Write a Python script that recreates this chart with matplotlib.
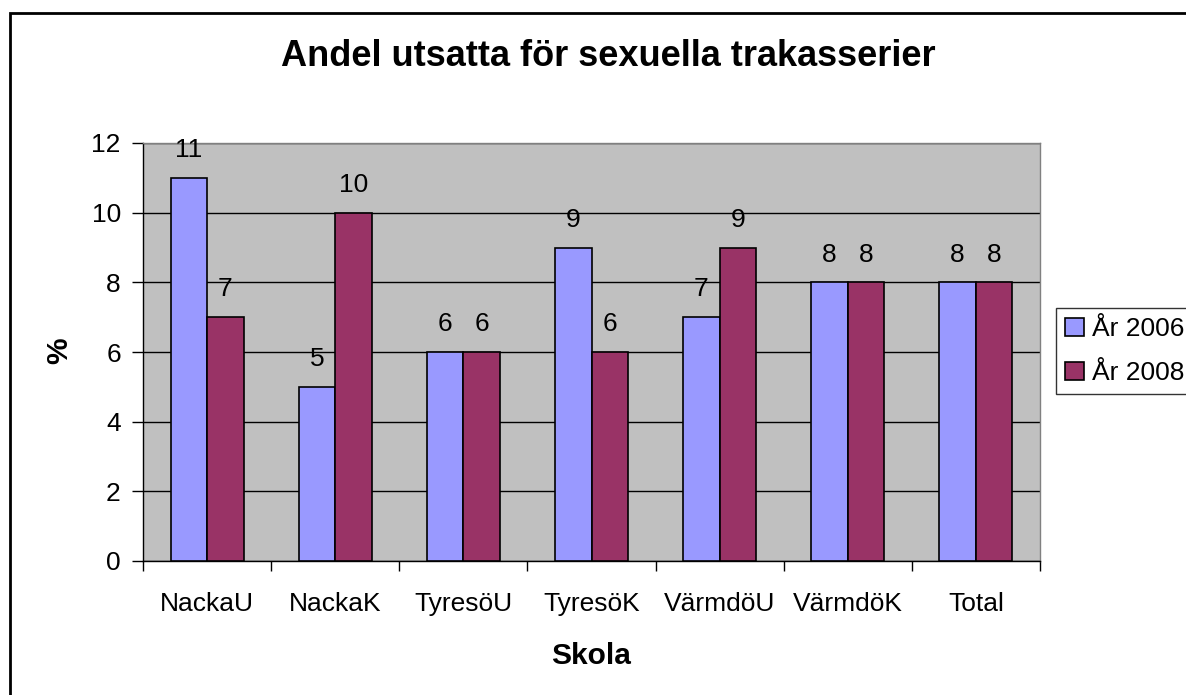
import matplotlib
matplotlib.use("Agg")
import matplotlib.pyplot as plt
from matplotlib.patches import Rectangle
import numpy as np

categories = ["NackaU", "NackaK", "TyresöU", "TyresöK", "VärmdöU", "VärmdöK", "Total"]
series_names = ["År 2006", "År 2008"]
values_2006 = [11, 5, 6, 9, 7, 8, 8]
values_2008 = [7, 10, 6, 6, 9, 8, 8]
y_ticks = [0, 2, 4, 6, 8, 10, 12]

plt.rcParams['font.family'] = ['Liberation Sans', 'DejaVu Sans']

W, H = 1186, 695
FS = 19
fig = plt.figure(figsize=(W / 100, H / 100), dpi=100)
ax = fig.add_axes([143 / W, 1 - 561 / H, (1040 - 143) / W, (561 - 143) / H])
ax.set_facecolor('#C0C0C0')

x = np.arange(len(categories))
bw = 0.285
b1 = ax.bar(x - bw / 2, values_2006, bw, color='#9999FF', edgecolor='black', linewidth=1.2,
            label=series_names[0], zorder=3)
b2 = ax.bar(x + bw / 2, values_2008, bw, color='#993366', edgecolor='black', linewidth=1.2,
            label=series_names[1], zorder=3)

for bars in (b1, b2):
    for r in bars:
        ax.annotate(f"{int(r.get_height())}", (r.get_x() + r.get_width() / 2, r.get_height()),
                    xytext=(0, 20), textcoords='offset points', ha='center', va='center',
                    fontsize=FS, color='black', zorder=4, annotation_clip=False)

ax.set_xlim(-0.5, len(categories) - 0.5)
ax.set_ylim(0, 12)
ax.set_yticks(y_ticks)
ax.yaxis.grid(True, color='black', linewidth=1.0, zorder=1)
ax.set_axisbelow(True)

ax.set_xticks(x)
ax.set_xticklabels(categories, fontsize=FS)
ax.set_xticks(np.arange(len(categories) + 1) - 0.5, minor=True)
ax.tick_params(axis='x', which='major', length=0, pad=22)
ax.tick_params(axis='x', which='minor', length=7, width=1, direction='out', color='black')
ax.tick_params(axis='y', length=8, width=1, direction='out', labelsize=FS, pad=8)

for s in ['left', 'bottom']:
    ax.spines[s].set_color('black')
    ax.spines[s].set_linewidth(1.0)
for s in ['top', 'right']:
    ax.spines[s].set_color('#808080')
    ax.spines[s].set_linewidth(1.0)

fig.text(591 / W, 1 - 656 / H, "Skola", ha='center', va='center', fontsize=21.5, fontweight='bold')
fig.text(59 / W, 1 - 351 / H, "%", ha='center', va='center', rotation=90, fontsize=21.5,
         fontweight='bold')

fig.text(608 / W, 1 - 57 / H, "Andel utsatta för sexuella trakasserier", ha='center', va='center',
         fontsize=26, fontweight='bold')

leg = fig.legend(loc='upper left', bbox_to_anchor=(1056 / W, 1 - 308 / H), borderaxespad=0,
                 fontsize=FS, frameon=True, fancybox=False, edgecolor='black',
                 handlelength=0.7, handleheight=0.7, handletextpad=0.3, labelspacing=0.75,
                 borderpad=0.35)
leg.get_frame().set_linewidth(1.0)

fig.patches.append(Rectangle((10 / W, -0.1), 1.2, 1 - 13 / H + 0.1, transform=fig.transFigure,
                             fill=False, edgecolor='black', linewidth=2, zorder=0))

fig.savefig("out.png", dpi=100)
